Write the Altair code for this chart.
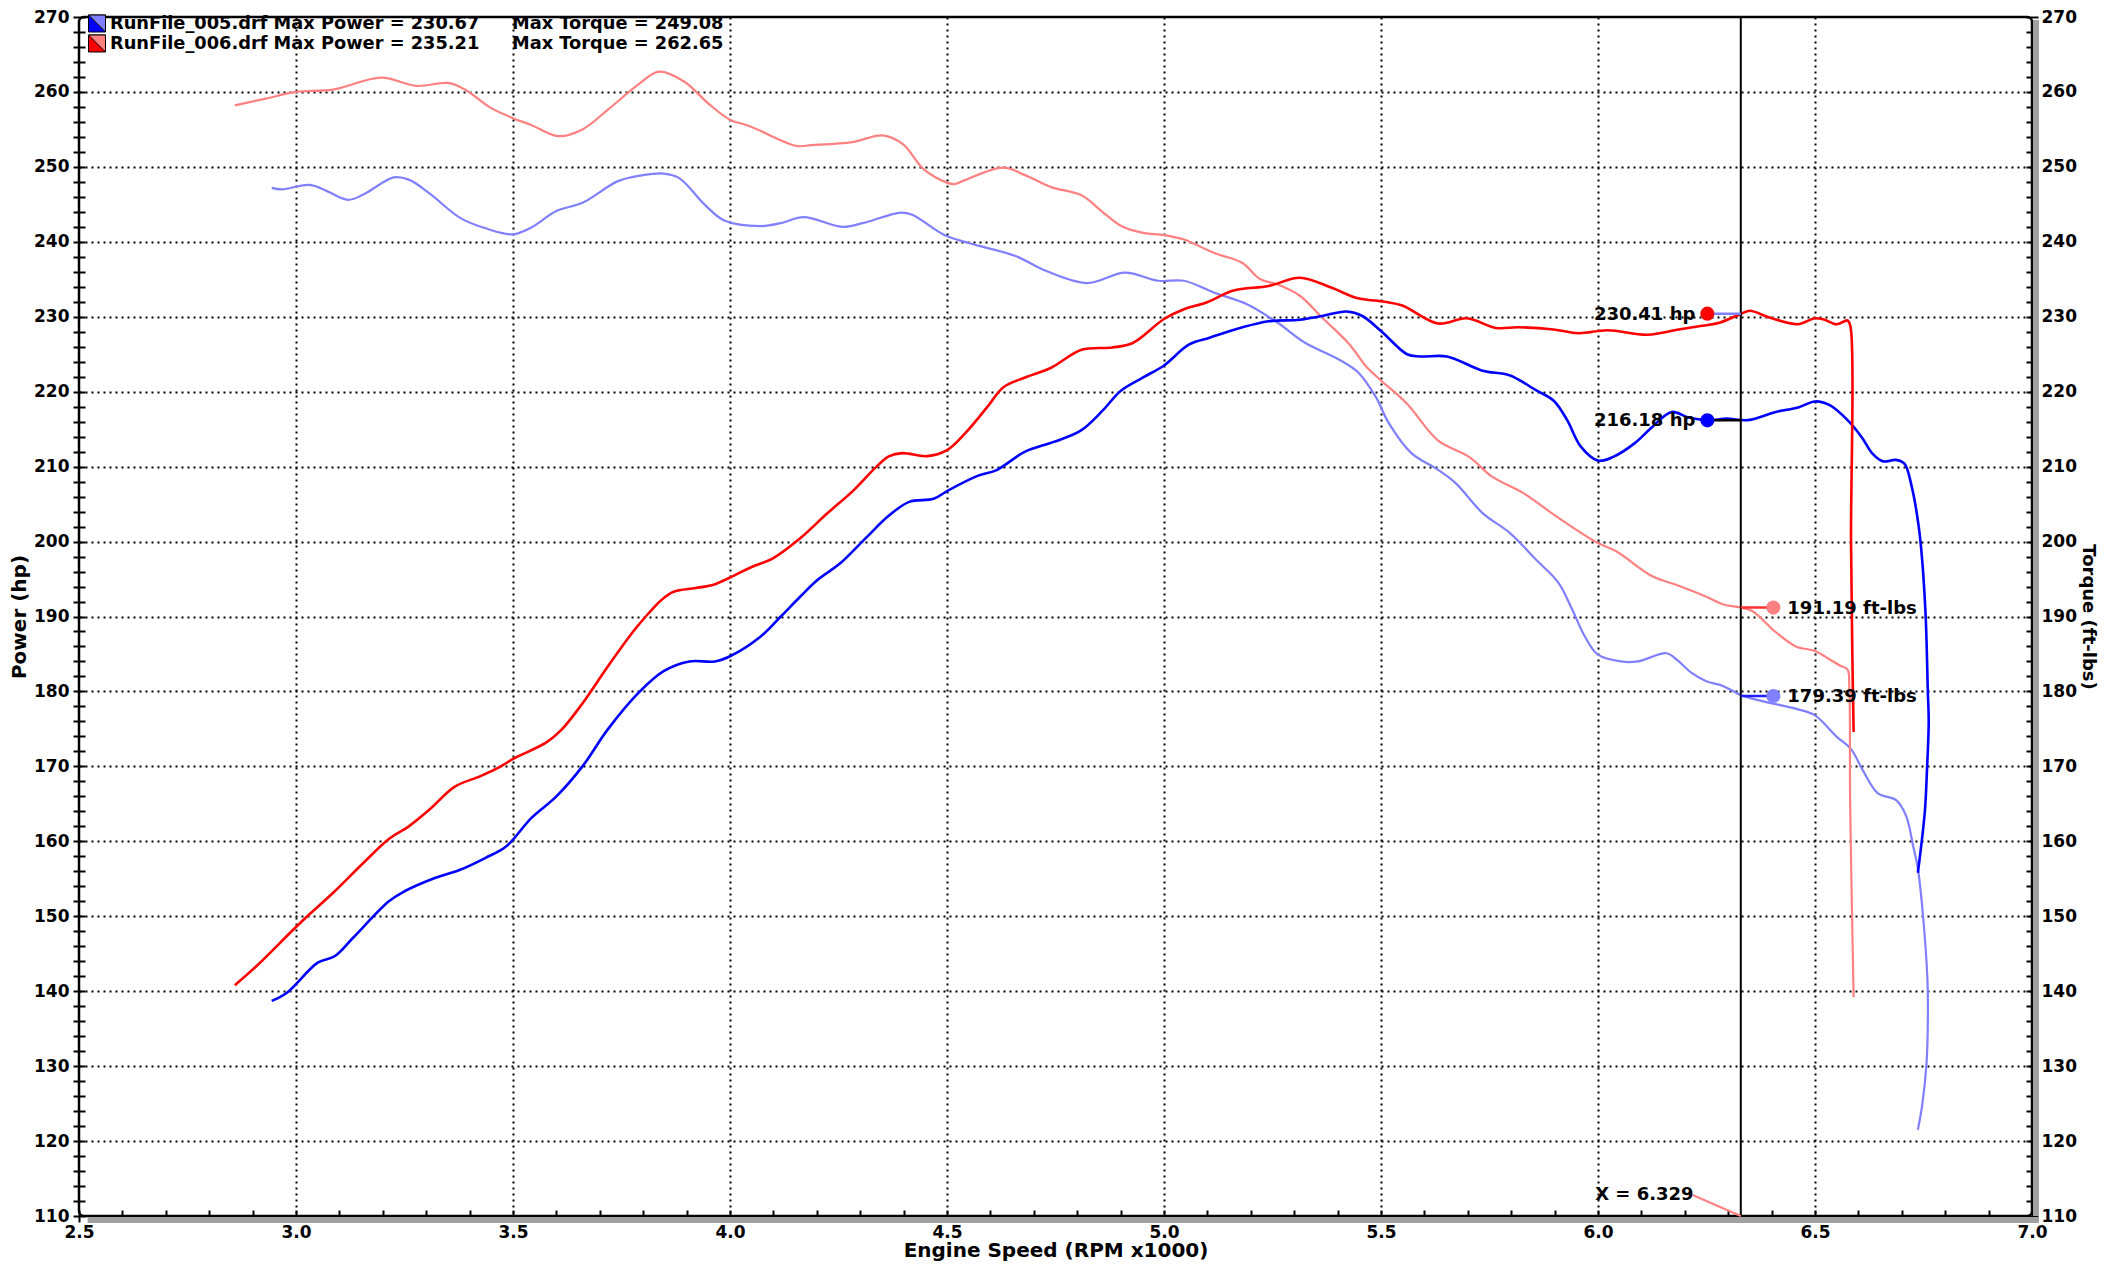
import altair as alt
import pandas as pd

# ---------------- data ----------------
rpm_005_power = [2.944, 2.979, 3.05, 3.09, 3.131, 3.214, 3.249, 3.32, 3.378, 3.437, 3.484, 3.542, 3.6, 3.66,
                 3.718, 3.789, 3.847, 3.906, 3.965, 4.0, 4.07, 4.117, 4.161, 4.202, 4.254, 4.315, 4.367, 4.413,
                 4.469, 4.505, 4.572, 4.613, 4.68, 4.746, 4.808, 4.859, 4.9, 4.952, 5.0, 5.058, 5.105, 5.175,
                 5.241, 5.313, 5.364, 5.421, 5.457, 5.5, 5.56, 5.59, 5.652, 5.734, 5.796, 5.857, 5.898, 5.929,
                 5.96, 6.0, 6.035, 6.084, 6.125, 6.17, 6.207, 6.252, 6.297, 6.346, 6.41, 6.461, 6.5, 6.534,
                 6.575, 6.608, 6.633, 6.657, 6.686, 6.706, 6.723, 6.739, 6.747, 6.755, 6.76, 6.762, 6.758,
                 6.753, 6.737]
hp_005 = [138.7, 139.8, 143.8, 144.7, 147.1, 152.0, 153.3, 155.1, 156.2, 157.8, 159.3, 163.1, 166.0, 170.0,
          174.9, 179.8, 182.7, 184.0, 184.0, 184.7, 187.3, 190.0, 192.6, 194.9, 197.1, 200.6, 203.5, 205.3,
          205.7, 206.9, 208.8, 209.5, 212.0, 213.3, 214.8, 217.5, 220.1, 221.9, 223.5, 226.3, 227.2, 228.5,
          229.4, 229.6, 230.1, 230.7, 230.1, 228.1, 225.0, 224.7, 224.7, 222.8, 222.2, 220.2, 218.8, 216.2,
          212.7, 210.8, 211.3, 213.1, 215.3, 217.3, 216.6, 216.2, 216.4, 216.2, 217.3, 217.9, 218.7, 218.2,
          216.2, 213.9, 211.7, 210.7, 210.9, 210.4, 207.3, 202.0, 197.5, 190.0, 180.0, 176.0, 169.5,
          163.9, 155.8]

rpm_006_power = [2.859, 2.908, 2.99, 3.026, 3.085, 3.155, 3.214, 3.26, 3.307, 3.366, 3.425, 3.472, 3.5, 3.577,
                 3.612, 3.66, 3.718, 3.777, 3.812, 3.842, 3.87, 3.92, 3.96, 4.0, 4.05, 4.1, 4.161, 4.223,
                 4.284, 4.341, 4.367, 4.397, 4.454, 4.5, 4.541, 4.592, 4.63, 4.68, 4.74, 4.81, 4.881, 4.928,
                 5.0, 5.046, 5.098, 5.16, 5.241, 5.313, 5.385, 5.445, 5.508, 5.549, 5.631, 5.698, 5.765,
                 5.816, 5.898, 5.955, 6.022, 6.114, 6.186, 6.24, 6.28, 6.33, 6.35, 6.395, 6.46, 6.5, 6.522,
                 6.55, 6.575, 6.582, 6.583, 6.586, 6.589]
hp_006 = [140.8, 143.3, 148.0, 150.0, 153.1, 157.1, 160.3, 162.0, 164.2, 167.3, 168.7, 170.0, 171.0, 173.2,
          174.9, 178.4, 183.3, 188.0, 190.4, 192.2, 193.3, 193.8, 194.2, 195.2, 196.6, 197.8, 200.4, 203.7,
          206.8, 210.2, 211.4, 211.8, 211.4, 212.2, 214.4, 217.9, 220.6, 221.9, 223.2, 225.6, 225.9, 226.5,
          229.7, 231.0, 231.9, 233.5, 234.1, 235.2, 233.9, 232.5, 232.0, 231.5, 229.1, 229.8, 228.5,
          228.6, 228.3, 227.8, 228.2, 227.6, 228.3, 228.8, 229.2, 230.4, 230.8, 229.9, 229.0, 229.8, 229.6,
          229.0, 229.5, 228.6, 200.0, 185.0, 174.6]

rpm_005_torque = [2.944, 2.967, 3.032, 3.07, 3.12, 3.155, 3.225, 3.26, 3.307, 3.378, 3.437, 3.5, 3.542, 3.6,
                  3.66, 3.742, 3.8, 3.847, 3.883, 3.941, 3.988, 4.07, 4.117, 4.17, 4.258, 4.306, 4.394, 4.42,
                  4.494, 4.552, 4.658, 4.729, 4.823, 4.91, 4.987, 5.046, 5.116, 5.19, 5.262, 5.323, 5.406,
                  5.447, 5.488, 5.518, 5.57, 5.631, 5.672, 5.734, 5.796, 5.857, 5.909, 5.94, 5.97, 6.0, 6.052,
                  6.092, 6.158, 6.182, 6.215, 6.248, 6.289, 6.33, 6.379, 6.461, 6.5, 6.549, 6.583, 6.61, 6.645,
                  6.687, 6.71, 6.726, 6.737, 6.749, 6.759, 6.76, 6.757, 6.747, 6.737]
tq_005 = [247.2, 247.0, 247.6, 246.8, 245.6, 246.3, 248.6, 248.3, 246.5, 243.2, 241.8, 241.0, 241.9, 244.1,
          245.2, 248.1, 248.9, 249.1, 248.5, 245.0, 242.8, 242.1, 242.5, 243.3, 242.0, 242.5, 243.9, 243.6,
          240.9, 239.8, 238.1, 236.1, 234.5, 235.9, 234.8, 234.8, 233.2, 231.7, 229.2, 226.6, 224.2,
          222.6, 219.3, 215.8, 211.8, 209.6, 207.8, 203.8, 201.2, 197.6, 194.5, 191.0, 187.3, 184.9, 184.0,
          184.0, 185.1, 184.2, 182.5, 181.4, 180.7, 179.5, 178.7, 177.6, 176.8, 174.0, 172.3, 169.5, 166.4,
          165.5, 163.4, 159.4, 156.4, 150.0, 141.6, 136.0, 130.4, 124.8, 121.5]

rpm_006_torque = [2.859, 2.93, 3.0, 3.085, 3.196, 3.278, 3.351, 3.39, 3.448, 3.5, 3.542, 3.604, 3.66, 3.718,
                  3.789, 3.836, 3.894, 3.953, 4.0, 4.047, 4.153, 4.188, 4.282, 4.352, 4.399, 4.446, 4.5, 4.517,
                  4.54, 4.629, 4.68, 4.74, 4.81, 4.858, 4.905, 4.952, 5.0, 5.046, 5.116, 5.18, 5.222, 5.262,
                  5.313, 5.364, 5.426, 5.467, 5.5, 5.56, 5.631, 5.703, 5.755, 5.827, 5.898, 5.96, 6.0, 6.042,
                  6.124, 6.186, 6.247, 6.289, 6.329, 6.356, 6.41, 6.456, 6.5, 6.533, 6.556, 6.575, 6.579,
                  6.581, 6.589]
tq_006 = [258.2, 259.1, 260.0, 260.3, 261.9, 260.8, 261.2, 260.3, 257.9, 256.5, 255.6, 254.1, 255.0, 257.6,
          261.0, 262.7, 261.4, 258.3, 256.3, 255.4, 252.8, 252.9, 253.3, 254.2, 253.0, 249.7, 247.9, 247.7,
          248.2, 249.9, 248.9, 247.3, 246.2, 244.0, 242.0, 241.2, 240.9, 240.3, 238.5, 237.2, 235.0, 234.3,
          232.8, 229.9, 226.4, 223.3, 221.5, 218.4, 213.5, 211.3, 208.7, 206.5, 203.6, 201.2, 199.8, 198.7,
          195.4, 194.1, 192.7, 191.6, 191.2, 190.7, 187.9, 186.0, 185.4, 184.3, 183.5, 182.9, 180.7,
          165.0, 139.2]

series_names = ["005 Power", "006 Power", "005 Torque", "006 Torque"]
series_colors = ["#0000FF", "#FF0000", "#8080FF", "#FF8080"]

legend_files = ["RunFile_005.drf", "RunFile_006.drf"]
legend_max_power = ["230.67", "235.21"]
legend_max_torque = ["249.08", "262.65"]
legend_dark = ["#0000FF", "#FF0000"]
legend_light = ["#8080FF", "#FF8080"]

cursor_rpm = 6.329
cursor_text = "X = 6.329"
hp_marker_rpm = 6.252
hp_marker_vals = [230.41, 216.18]
hp_marker_text = ["230.41 hp", "216.18 hp"]
hp_marker_colors = ["#FF0000", "#0000FF"]
hp_link_colors = ["#8080FF", "#000000"]
tq_marker_rpm = 6.404
tq_marker_vals = [191.19, 179.39]
tq_marker_text = ["191.19 ft-lbs", "179.39 ft-lbs"]
tq_marker_colors = ["#FF8080", "#8080FF"]
tq_link_colors = ["#FF3030", "#2020FF"]
cursor_label_rpm = [6.218, 6.329]
cursor_label_val = [112.8, 110.0]

x_ticks = [round(2.5 + 0.1 * k, 1) for k in range(46)]
y_ticks = list(range(110, 272, 2))

# ---------------- build ----------------
FONT = "DejaVu Sans"
W, H = 1953, 1199


def sdf(name, rpm, val):
    return pd.DataFrame({"rpm": rpm, "value": val, "series": name, "i": list(range(len(rpm)))})


power_df = pd.concat([sdf("005 Power", rpm_005_power, hp_005), sdf("006 Power", rpm_006_power, hp_006)])
torque_df = pd.concat([sdf("005 Torque", rpm_005_torque, tq_005), sdf("006 Torque", rpm_006_torque, tq_006)])

xscale = alt.Scale(domain=[2.5, 7.0], nice=False, zero=False)
yscale = alt.Scale(domain=[110, 270], nice=False, zero=False)
cscale = alt.Scale(domain=series_names, range=series_colors)

x_axis = alt.Axis(
    values=x_ticks,
    labelExpr="round(datum.value*10) % 5 == 0 ? format(datum.value, '.1f') : ''",
    grid=True,
    gridOpacity={"condition": {"test": "round(datum.value*10) % 5 == 0 && datum.value > 2.55 && datum.value < 6.95", "value": 1}, "value": 0},
    offset=-6, tickSize=12, domain=False, labelPadding=2,
    labelOverlap=False, labelFlush=False,
    title="Engine Speed (RPM x1000)", titleY=46, titleBaseline="alphabetic", titleFontSize=20,
)
y_left = alt.Axis(
    values=y_ticks, orient="left",
    labelExpr="datum.value % 10 == 0 ? datum.label : ''",
    grid=True,
    gridOpacity={"condition": {"test": "datum.value % 10 == 0 && datum.value > 110 && datum.value < 270", "value": 1}, "value": 0},
    offset=-6, tickSize=12, domain=False, labelPadding=4,
    labelOverlap=False, labelFlush=False,
    title="Power (hp)", titleX=-66, titleY=H / 2, titleBaseline="middle", titleAngle=270, titleFontSize=20,
)
y_right = alt.Axis(
    values=y_ticks, orient="right",
    labelExpr="datum.value % 10 == 0 ? datum.label : ''",
    grid=False,
    offset=-6, tickSize=12, domain=False, labelPadding=3,
    labelOverlap=False, labelFlush=False,
    title="Torque (ft-lbs)", titleX=61, titleY=H / 2, titleBaseline="middle", titleAngle=90, titleFontSize=18,
)

X = alt.X("rpm:Q", scale=xscale, axis=x_axis)
Y_none = alt.Y("value:Q", scale=yscale, axis=None)

layers = []

# shadow of the frame (bottom and right)
shadow_df = pd.DataFrame({"rpm": [2.52], "rpm2": [7.0], "value": [110.0], "value2": [270.0]})
layers.append(alt.Chart(shadow_df).mark_rule(color="#A0A0A0", strokeWidth=6, yOffset=4, x2Offset=7).encode(
    x=X, x2="rpm2:Q", y=Y_none))
layers.append(alt.Chart(shadow_df).mark_rule(color="#A0A0A0", strokeWidth=6, xOffset=4, y2Offset=3).encode(
    x=alt.X("rpm2:Q", scale=xscale, axis=x_axis), y=Y_none, y2="value2:Q"))

# torque lines
layers.append(alt.Chart(torque_df).mark_line(strokeWidth=2.2, interpolate="catmull-rom").encode(
    x=X, y=alt.Y("value:Q", scale=yscale, axis=y_right),
    color=alt.Color("series:N", scale=cscale, legend=None), order="i:Q", detail="series:N"))

# power lines
layers.append(alt.Chart(power_df).mark_line(strokeWidth=2.6, interpolate="catmull-rom").encode(
    x=X, y=alt.Y("value:Q", scale=yscale, axis=y_left),
    color=alt.Color("series:N", scale=cscale, legend=None), order="i:Q", detail="series:N"))

# cursor
cur_df = pd.DataFrame({"rpm": [cursor_rpm], "value": [110.0], "value2": [270.0]})
layers.append(alt.Chart(cur_df).mark_rule(color="black", strokeWidth=2).encode(x=X, y=Y_none, y2="value2:Q"))

# power markers
for v, t, c, lc in zip(hp_marker_vals, hp_marker_text, hp_marker_colors, hp_link_colors):
    d = pd.DataFrame({"rpm": [hp_marker_rpm], "rpm2": [cursor_rpm], "value": [v], "label": [t]})
    layers.append(alt.Chart(d).mark_rule(color=lc, strokeWidth=2.5).encode(x=X, x2="rpm2:Q", y=Y_none))
    layers.append(alt.Chart(d).mark_point(filled=True, color=c, opacity=1, size=200).encode(x=X, y=Y_none))
    layers.append(alt.Chart(d).mark_text(align="right", baseline="middle", dx=-12, dy=1, font=FONT,
                                         fontSize=18, fontWeight="bold", color="black").encode(
        x=X, y=Y_none, text="label:N"))

# torque markers
for v, t, c, lc in zip(tq_marker_vals, tq_marker_text, tq_marker_colors, tq_link_colors):
    d = pd.DataFrame({"rpm": [cursor_rpm], "rpm2": [tq_marker_rpm], "value": [v], "label": [t]})
    dd = pd.DataFrame({"rpm": [tq_marker_rpm], "value": [v], "label": [t]})
    layers.append(alt.Chart(d).mark_rule(color=lc, strokeWidth=2.5).encode(x=X, x2="rpm2:Q", y=Y_none))
    layers.append(alt.Chart(dd).mark_point(filled=True, color=c, opacity=1, size=200).encode(x=X, y=Y_none))
    layers.append(alt.Chart(dd).mark_text(align="left", baseline="middle", dx=14, dy=1, font=FONT,
                                          fontSize=18, fontWeight="bold", color="black").encode(
        x=X, y=Y_none, text="label:N"))

# cursor label
cl_df = pd.DataFrame({"rpm": cursor_label_rpm, "value": cursor_label_val, "i": [0, 1]})
layers.append(alt.Chart(cl_df).mark_line(color="#FF8080", strokeWidth=2).encode(x=X, y=Y_none, order="i:Q"))
ct_df = pd.DataFrame({"rpm": [cursor_label_rpm[0]], "value": [cursor_label_val[0]], "label": [cursor_text]})
layers.append(alt.Chart(ct_df).mark_text(align="right", baseline="middle", dx=1, font=FONT, fontSize=18,
                                         fontWeight="bold", color="black").encode(x=X, y=Y_none, text="label:N"))

# legend (drawn inside the plot, top-left)
one = pd.DataFrame({"k": [0]})
for r in range(2):
    yy = 6.5 + 20 * r
    layers.append(alt.Chart(one).mark_point(shape="square", filled=True, fill=legend_dark[r], stroke="black",
                                            strokeWidth=1, size=289, opacity=1).encode(
        x=alt.value(18), y=alt.value(yy)))
    layers.append(alt.Chart(one).mark_point(shape="M -1 -1 L 1 -1 L 1 1 Z", filled=True, fill=legend_light[r],
                                            stroke="black", strokeWidth=1, size=289, opacity=1).encode(
        x=alt.value(18), y=alt.value(yy)))
    layers.append(alt.Chart(one).mark_text(align="left", baseline="middle", font=FONT, fontSize=17.8,
                                           fontWeight="bold", color="black").encode(
        x=alt.value(31), y=alt.value(yy),
        text=alt.value(f"{legend_files[r]} Max Power = {legend_max_power[r]}")))
    layers.append(alt.Chart(one).mark_text(align="left", baseline="middle", font=FONT, fontSize=17.8,
                                           fontWeight="bold", color="black").encode(
        x=alt.value(433), y=alt.value(yy),
        text=alt.value(f"Max Torque = {legend_max_torque[r]}")))

chart = alt.layer(*layers).resolve_scale(y="independent").properties(
    width=W, height=H,
    autosize=alt.AutoSizeParams(type="none"),
    padding={"left": 71, "top": 9, "right": 67, "bottom": 45},
).configure_axis(
    labelFont=FONT, labelFontSize=17, labelFontWeight="bold", labelColor="black",
    titleFont=FONT, titleFontSize=20, titleFontWeight="bold", titleColor="black",
    tickColor="black", tickWidth=2,
    gridColor="black", gridDash=[2, 4], gridWidth=2,
).configure_view(stroke="black", strokeWidth=2.5, cornerRadius=5)

chart.save("out.html", embed_options={"renderer": "svg", "actions": False})
